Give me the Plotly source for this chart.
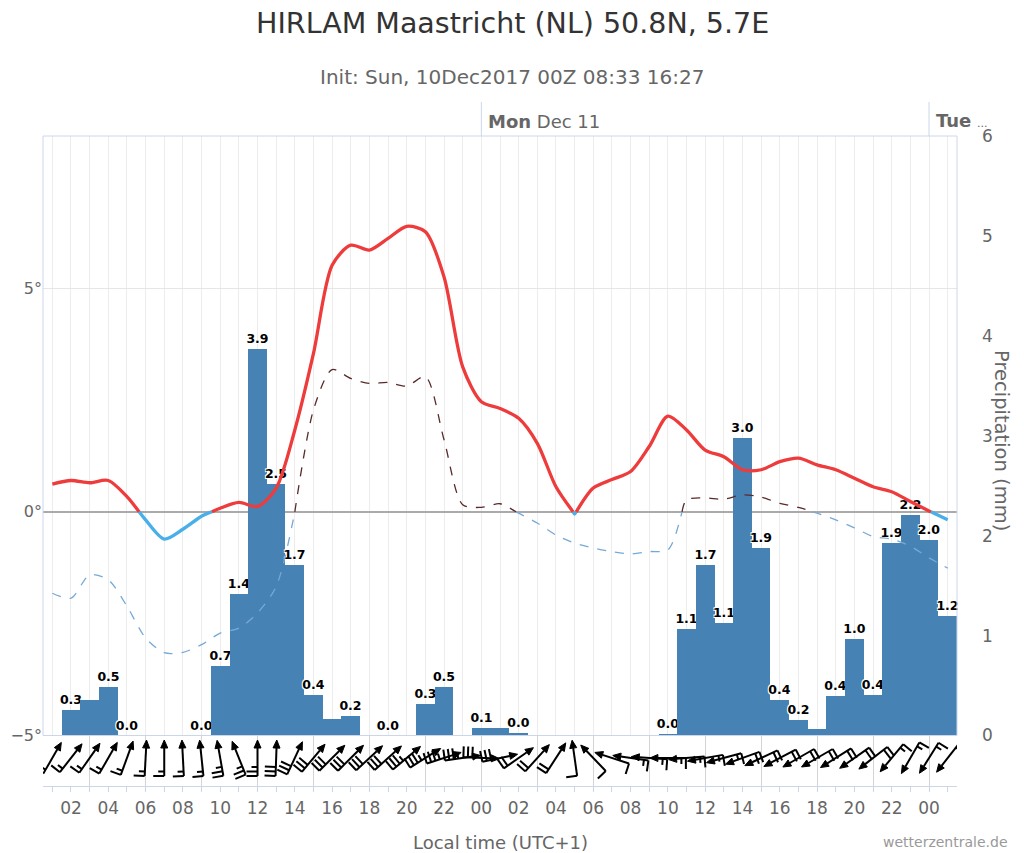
import math
import plotly.graph_objects as go

# ---------------- data ----------------
HOURS = list(range(1, 50))  # local hours after Sun 10 Dec 00:00

TEMP = [0.62, 0.70, 0.65, 0.70, 0.34, -0.18, -0.61, -0.39, -0.10, 0.08,
        0.21, 0.12, 0.53, 1.83, 3.54, 5.51, 5.96, 5.85, 6.11, 6.38,
        6.26, 5.25, 3.24, 2.46, 2.31, 2.09, 1.53, 0.56, -0.05, 0.53,
        0.72, 0.90, 1.46, 2.14, 1.83, 1.38, 1.23, 0.94, 0.94, 1.12,
        1.20, 1.05, 0.94, 0.75, 0.56, 0.45, 0.23, 0.02, -0.18]

DEWPOINT = [-1.82, -1.93, -1.41, -1.52, -2.11, -2.82, -3.15, -3.14, -2.97, -2.71,
            -2.60, -2.26, -1.67, 0.00, 2.28, 3.18, 2.98, 2.87, 2.89, 2.81,
            3.02, 1.61, 0.16, 0.10, 0.18, -0.03, -0.25, -0.52, -0.70, -0.81,
            -0.89, -0.94, -0.89, -0.85, 0.27, 0.31, 0.28, 0.38, 0.33, 0.19,
            0.10, -0.03, -0.18, -0.36, -0.55, -0.61, -0.77, -1.03, -1.26]

PRECIP_HOURS = list(range(2, 50))
PRECIP = [0.26, 0.36, 0.49, 0.0, None, None, None, 0.0, 0.70, 1.42,
          3.87, 2.52, 1.71, 0.41, 0.17, 0.20, None, 0.0, None, 0.32,
          0.49, None, 0.08, 0.08, 0.03, None, None, None, None, None,
          None, None, 0.02, 1.07, 1.71, 1.13, 2.98, 1.88, 0.36, 0.16,
          0.07, 0.40, 0.97, 0.41, 1.93, 2.21, 1.96, 1.20]
PRECIP_LABELED_HOURS = [2, 4, 5, 9, 10, 11, 12, 13, 14, 15, 17, 19, 21, 22, 24, 26,
                        34, 35, 36, 37, 38, 39, 40, 41, 43, 44, 45, 46, 47, 48, 49]

# wind: direction the wind comes FROM (deg) and speed (kt)
WIND_FROM = [210, 218, 215, 210, 200, 183, 180, 177, 174, 170,
             158, 180, 182, 205, 220, 225, 225, 227, 228, 230,
             238, 252, 262, 272, 258, 235, 222, 213, 172, 136,
             108, 98, 94, 90, 85, 80, 75, 70, 65, 62,
             60, 60, 58, 55, 52, 40, 30, 32, 38]
WIND_SPEED = [15, 15, 15, 15, 15, 15, 15, 15, 15, 25,
              25, 25, 30, 30, 30, 30, 30, 30, 30, 35,
              35, 35, 35, 30, 30, 20, 20, 20, 10, 10,
              10, 15, 15, 15, 15, 15, 15, 20, 20, 20,
              20, 20, 20, 20, 20, 15, 15, 15, 15]

TICK_HOURS = list(range(2, 49, 2))
TICK_LABELS = ["02", "04", "06", "08", "10", "12", "14", "16", "18", "20", "22", "00",
               "02", "04", "06", "08", "10", "12", "14", "16", "18", "20", "22", "00"]

TEMP_TICKS = [-5, 0, 5]
TEMP_TICK_LABELS = ["\u22125\u00b0", "0\u00b0", "5\u00b0"]

# ---------------- layout constants (reference pixel space) ----------------
PAGE_OFFSET = 8          # the browser page margin shifts the figure by this much
W, H = 1024 - PAGE_OFFSET, 853 - PAGE_OFFSET
ML_REF, MT_REF = 43, 136
ML, MT = ML_REF - PAGE_OFFSET, MT_REF - PAGE_OFFSET
MR, MB = 67, 67
PLOT_W = W - ML - MR
PLOT_H = H - MT - MB
STRIP_PX = 50.5
X_RANGE = [0.5, 49.5]
PXH = PLOT_W / (X_RANGE[1] - X_RANGE[0])
STRIP_FRAC = STRIP_PX / PLOT_H

RED, BLUE = "#ee3b3b", "#48afe8"
DEW_POS, DEW_NEG = "#5a2a2a", "#76a9d6"
FONT = "DejaVu Sans"


def px_to_paper_x(px):
    return (px - ML_REF) / PLOT_W


def split_zones(xs, ys):
    """Split a series at y=0 so that >=0 and <0 parts can be coloured differently."""
    pos_x, pos_y, neg_x, neg_y = [], [], [], []
    for i, (x, y) in enumerate(zip(xs, ys)):
        if i > 0:
            x0, y0 = xs[i - 1], ys[i - 1]
            if (y0 >= 0) != (y >= 0):
                xc = x0 + (0 - y0) * (x - x0) / (y - y0)
                pos_x.append(xc); pos_y.append(0)
                neg_x.append(xc); neg_y.append(0)
                if y0 >= 0:
                    pos_x.append(None); pos_y.append(None)
                else:
                    neg_x.append(None); neg_y.append(None)
        if y >= 0:
            pos_x.append(x); pos_y.append(y)
        else:
            neg_x.append(x); neg_y.append(y)
    return pos_x, pos_y, neg_x, neg_y


fig = go.Figure()

# precipitation bars (bottom layer)
labeled = set(PRECIP_LABELED_HOURS)
bar_text = [("%.1f" % v) if (h in labeled and v is not None) else ""
            for h, v in zip(PRECIP_HOURS, PRECIP)]
outline = "-1px -1px 0 #fff, 1px -1px 0 #fff, -1px 1px 0 #fff, 1px 1px 0 #fff"
fig.add_trace(go.Bar(
    x=PRECIP_HOURS, y=PRECIP, width=1, xaxis="x", yaxis="y",
    marker=dict(color="#4682b4", line=dict(width=0)),
    text=bar_text, textposition="outside", cliponaxis=False, constraintext="none",
    textfont=dict(family=FONT, size=12.5, color="#000", weight="bold", shadow=outline),
    showlegend=False, hoverinfo="skip"))

# dewpoint (dashed) and temperature (solid), zone-coloured
for series, pos_c, neg_c, w, dash in [(DEWPOINT, DEW_POS, DEW_NEG, 1.3, "dash"),
                                      (TEMP, RED, BLUE, 3.3, "solid")]:
    px_, py_, nx_, ny_ = split_zones(HOURS, series)
    for xs, ys, c in [(nx_, ny_, neg_c), (px_, py_, pos_c)]:
        fig.add_trace(go.Scatter(
            x=xs, y=ys, xaxis="x", yaxis="y2", mode="lines",
            line=dict(color=c, width=w, dash=dash, shape="spline", smoothing=0.8),
            connectgaps=False, showlegend=False, hoverinfo="skip"))

# wind barbs in the strip under the plot (y3 units = pixels)
BARB_CY = 28.0
BARB_LEN = 36.0
HEAD_LEN, HEAD_W = 8.0, 7.0
FULL_LEN, HALF_LEN, FEATHER_GAP = 11.0, 6.0, 4.5
lx, ly, hx, hy = [], [], [], []


def to_x(h, dx_px):
    return h + dx_px / PXH


for h, frm, spd in zip(HOURS, WIND_FROM, WIND_SPEED):
    t = math.radians((frm + 180) % 360)
    ux, uy = math.sin(t), math.cos(t)
    px_l, py_l = -uy, ux  # left of travel direction
    half = BARB_LEN / 2
    tip = (ux * half, BARB_CY + uy * half)
    tail = (-ux * half, BARB_CY - uy * half)
    base = (tip[0] - ux * HEAD_LEN, tip[1] - uy * HEAD_LEN)
    lx += [to_x(h, tail[0]), to_x(h, base[0]), None]
    ly += [tail[1], base[1], None]
    c1 = (base[0] + px_l * HEAD_W / 2, base[1] + py_l * HEAD_W / 2)
    c2 = (base[0] - px_l * HEAD_W / 2, base[1] - py_l * HEAD_W / 2)
    hx += [to_x(h, tip[0]), to_x(h, c1[0]), to_x(h, c2[0]), to_x(h, tip[0]), None]
    hy += [tip[1], c1[1], c2[1], tip[1], None]
    n_full, n_half = spd // 10, 1 if spd % 10 >= 5 else 0
    lens = [FULL_LEN] * n_full + [HALF_LEN] * n_half
    for k, L in enumerate(lens):
        s = (tail[0] + ux * FEATHER_GAP * k, tail[1] + uy * FEATHER_GAP * k)
        e = (s[0] + px_l * L, s[1] + py_l * L)
        lx += [to_x(h, s[0]), to_x(h, e[0]), None]
        ly += [s[1], e[1], None]

fig.add_trace(go.Scatter(x=lx, y=ly, xaxis="x2", yaxis="y3", mode="lines",
                         line=dict(color="#000", width=2), showlegend=False,
                         hoverinfo="skip", cliponaxis=False))
fig.add_trace(go.Scatter(x=hx, y=hy, xaxis="x2", yaxis="y3", mode="lines",
                         fill="toself", fillcolor="#000",
                         line=dict(color="#000", width=1), showlegend=False,
                         hoverinfo="skip", cliponaxis=False))

tick_map = dict(zip(TICK_HOURS, TICK_LABELS))

fig.update_layout(
    width=W, height=H, margin=dict(l=ML, r=MR, t=MT, b=MB, autoexpand=False),
    paper_bgcolor="white", plot_bgcolor="white", bargap=0,
    font=dict(family=FONT, color="#666"),
    xaxis=dict(range=X_RANGE, anchor="free", position=0, domain=[0, 1],
               automargin=False,
               tickmode="array", tickvals=HOURS,
               ticktext=[tick_map.get(h, "") for h in HOURS],
               showgrid=True, gridcolor="#ececec", gridwidth=1,
               zeroline=False, showline=False, ticks="", ticklabelstandoff=10,
               tickfont=dict(size=17, color="#666")),
    xaxis2=dict(range=X_RANGE, matches="x", anchor="y3", domain=[0, 1],
                automargin=False,
                tickmode="linear", tick0=0, dtick=3, showticklabels=False,
                showgrid=True, gridcolor="#d4d4d4", zeroline=False,
                showline=True, linecolor="#ccd6eb", linewidth=1,
                ticks="outside", ticklen=5, tickcolor="#ccd6eb",
                minor=dict(tick0=0, dtick=1, ticks="outside", ticklen=5,
                           tickcolor="#ccd6eb", showgrid=False)),
    yaxis=dict(domain=[STRIP_FRAC, 1], range=[0, 6], side="right", anchor="x",
               automargin=False,
               tickmode="linear", tick0=0, dtick=1, showgrid=False, zeroline=False,
               showline=False, ticklabelstandoff=24,
               tickfont=dict(size=17, color="#666")),
    yaxis2=dict(overlaying="y", side="left", anchor="x", range=[-5, 8.4],
                automargin=False,
                tickmode="array", tickvals=TEMP_TICKS, ticktext=TEMP_TICK_LABELS,
                showgrid=True, gridcolor="#e6e6e6", zeroline=True,
                zerolinecolor="#aaaaaa", zerolinewidth=1.5, showline=False,
                tickfont=dict(size=16, color="#666")),
    yaxis3=dict(domain=[0, STRIP_FRAC], range=[0, STRIP_PX], anchor="x2",
                automargin=False, showgrid=False, zeroline=False, showline=False,
                showticklabels=False, ticks="", fixedrange=True),
)

# plot frame and day separators
fig.add_shape(type="rect", xref="paper", yref="paper", x0=0, x1=1, y0=STRIP_FRAC, y1=1,
              line=dict(color="#ccd6eb", width=1))
for d in [24, 48]:
    fig.add_shape(type="line", xref="x", yref="paper", x0=d, x1=d,
                  y0=1, y1=1 + 34 / PLOT_H, line=dict(color="#ccd6eb", width=1))

# title as an annotation (keeps it fully inside the page)
fig.add_annotation(x=px_to_paper_x(512), xref="paper", y=1, yref="paper",
                   xanchor="center", yshift=MT_REF - 23, yanchor="middle",
                   showarrow=False, text="HIRLAM Maastricht (NL) 50.8N, 5.7E",
                   font=dict(size=28.5, color="#333"))
fig.add_annotation(x=24, xref="x", y=1, yref="paper", yshift=15, xshift=5,
                   xanchor="left", yanchor="middle", showarrow=False,
                   text="<b>Mon</b> Dec 11", font=dict(size=18, color="#666"))
fig.add_annotation(x=48, xref="x", y=1, yref="paper", yshift=16, xshift=5,
                   xanchor="left", yanchor="middle", showarrow=False,
                   text="<b>Tue</b> <span style='font-size:11px'>...</span>",
                   font=dict(size=18, color="#666"))
fig.add_annotation(x=px_to_paper_x(512), xref="paper", y=1, yref="paper",
                   xanchor="center", yshift=MT_REF - 77, yanchor="middle",
                   showarrow=False, text="Init: Sun, 10Dec2017 00Z 08:33 16:27",
                   font=dict(size=20, color="#666"))
fig.add_annotation(x=px_to_paper_x(500), xref="paper", y=0, yref="paper",
                   xanchor="center", yshift=-56, yanchor="middle", showarrow=False,
                   text="Local time (UTC+1)", font=dict(size=18, color="#666"))
fig.add_annotation(x=px_to_paper_x(1010), xref="paper", y=0, yref="paper",
                   yshift=-56, xanchor="right", yanchor="middle", showarrow=False,
                   text="wetterzentrale.de", font=dict(size=14, color="#999"))
fig.add_annotation(x=px_to_paper_x(1002), xref="paper", xanchor="center",
                   y=1 - (441 - MT_REF) / PLOT_H, yref="paper", yanchor="middle",
                   textangle=90, showarrow=False, text="Precipitation (mm)",
                   font=dict(size=19.5, color="#666"))

fig.write_html("out.html")
